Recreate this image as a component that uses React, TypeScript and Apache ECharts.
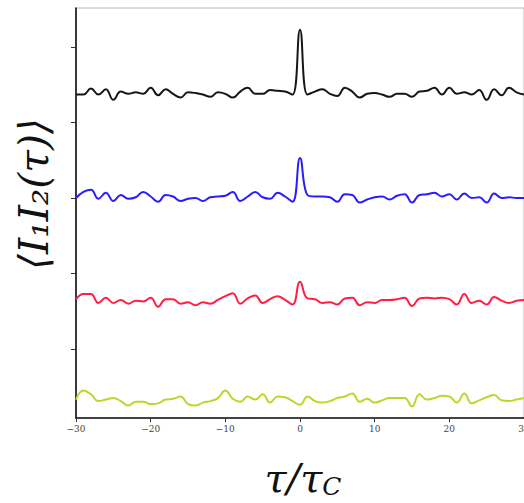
import React, { useEffect, useRef } from "react";
import * as echarts from "echarts";

// Delay axis samples, tau / tau_C
const tau: number[] = Array.from({ length: 61 }, (_, i) => i - 30);

// Vertical offsets of the stacked correlation traces
const offsets = { black: 4.37, blue: 3.0, red: 1.66, yellow: 0.33 };

// Fluctuation of each trace around its offset, one value per delay step
const blackTrace = [
  0, 0, 0.08, 0.0, 0.07, -0.07, 0.04, 0.01, 0.03, 0.01,
  0.09, -0.01, 0.07, 0.01, -0.04, 0.03, 0.02, 0, -0.03, 0.03,
  0.01, -0.04, 0.04, 0.09, 0.01, 0.01, 0.06, 0.05, 0.04, 0,
  0.86,
  0, 0.04, 0.07, 0.01, -0.02, 0.09, 0.04, -0.04, 0.01, 0.02,
  0, -0.03, 0.01, 0.01, -0.03, 0.04, 0.05, 0.09, 0, 0.09,
  0.01, 0.03, 0, 0.06, -0.07, 0.07, -0.01, 0.09, 0.03, 0,
];
const blueTrace = [
  0, 0.08, 0.11, -0.01, 0.07, -0.04, 0.04, -0.01, 0.01, 0.08,
  0.02, -0.05, 0.04, 0.02, -0.04, -0.01, 0, -0.04, 0.01, 0.02,
  0.03, 0.08, -0.04, 0.02, 0.08, 0.01, -0.01, 0.07, 0.02, -0.05,
  0.53,
  0.04, 0.02, 0.02, 0.01, -0.05, 0.05, 0.04, -0.06, -0.02, 0.01,
  0.02, -0.02, 0.03, 0.05, -0.06, 0.04, 0.05, 0.07, 0.02, 0.05,
  -0.02, 0.06, 0, 0.01, -0.06, 0.06, 0, 0.01, 0, 0,
];
const redTrace = [
  0, 0.07, 0.07, -0.05, 0.02, -0.05, -0.01, -0.06, -0.02, -0.03,
  0.02, -0.1, 0, 0, -0.06, -0.04, -0.08, -0.04, -0.06, -0.01,
  0.04, 0.08, -0.06, 0.01, 0.05, -0.05, 0.0, 0.04, -0.01, -0.07,
  0.23,
  0.01, 0, -0.05, -0.04, -0.07, 0.01, 0.02, -0.08, -0.04, -0.05,
  -0.01, -0.01, 0, 0.02, -0.09, 0.01, 0.02, 0.01, 0.02, 0,
  -0.07, 0.07, -0.05, -0.02, -0.07, 0.03, -0.02, -0.05, -0.02, -0.01,
];
const yellowTrace = [
  0, 0.12, 0.07, -0.02, 0, 0.02, -0.02, -0.08, -0.03, -0.03,
  -0.06, -0.05, 0, 0.01, 0.04, -0.06, -0.08, -0.04, -0.02, 0.02,
  0.12, 0.01, -0.03, 0.04, 0.0, 0.07, -0.04, 0.04, 0.03, -0.02,
  -0.07,
  0.04, -0.02, -0.04, -0.02, 0.02, 0.04, 0.08, -0.03, 0.01, -0.04,
  -0.01, 0.02, 0.02, 0.02, -0.09, 0.07, 0, 0.02, 0.05, 0.04,
  -0.04, 0.08, -0.05, -0.01, 0.03, 0.06, -0.01, -0.02, 0, 0.02,
];

const xTicks = [-30, -20, -10, 0, 10, 20, 30];
const yTicks = [1, 2, 3, 4, 5];

const traces = [
  { name: "black", values: blackTrace, offset: offsets.black, color: "#161616" },
  { name: "blue", values: blueTrace, offset: offsets.blue, color: "#2a1cff" },
  { name: "red", values: redTrace, offset: offsets.red, color: "#ff1e44" },
  { name: "yellow", values: yellowTrace, offset: offsets.yellow, color: "#bdd62c" },
];

export default function App() {
  const ref = useRef<HTMLDivElement>(null);

  useEffect(() => {
    if (!ref.current) return;
    const chart = echarts.init(ref.current, null, { renderer: "svg" });

    chart.setOption({
      animation: false,
      backgroundColor: "#ffffff",
      grid: {
        left: 76,
        top: 8,
        right: 0,
        bottom: 85,
        outerBoundsMode: "none",
        containLabel: false,
        show: true,
        borderColor: "#b8b8b8",
        borderWidth: 1,
        backgroundColor: "transparent",
      },
      xAxis: {
        type: "value",
        min: -30,
        max: 30,
        interval: 10,
        splitLine: { show: false },
        axisLine: { show: true, onZero: false, lineStyle: { color: "#111", width: 1.6 } },
        axisTick: {
          show: true,
          inside: false,
          length: 4,
          customValues: xTicks,
          lineStyle: { color: "#333", width: 1 },
        },
        axisLabel: {
          customValues: xTicks,
          fontFamily: "DejaVu Serif",
          fontSize: 9,
          color: "#444",
          margin: 6,
          formatter: (v: number) => String(v).replace("-", "\u2212"),
        },
      },
      yAxis: {
        type: "value",
        min: 0.086,
        max: 5.517,
        splitLine: { show: false },
        axisLine: { show: true, onZero: false, lineStyle: { color: "#111", width: 1.6 } },
        axisTick: {
          show: true,
          length: 5,
          customValues: yTicks,
          lineStyle: { color: "#333", width: 1 },
        },
        axisLabel: { show: false },
      },
      series: traces.map((t) => ({
        name: t.name,
        type: "line",
        data: tau.map((x, i) => [x, t.offset + t.values[i]]),
        showSymbol: false,
        smooth: 0.45,
        lineStyle: { color: t.color, width: 2 },
      })),
      graphic: [
        {
          type: "text",
          x: 34,
          y: 194,
          rotation: Math.PI / 2,
          style: {
            text: "\u27e8I\u2081I\u2082(\u03c4)\u27e9",
            fontFamily: "DejaVu Serif",
            fontStyle: "italic",
            fontSize: 41,
            fill: "#111",
            align: "center",
            verticalAlign: "middle",
          },
        },
        {
          type: "text",
          x: 303,
          y: 478,
          style: {
            text: "{m|\u03c4/\u03c4}{s|C}",
            align: "center",
            verticalAlign: "middle",
            rich: {
              m: {
                fontFamily: "DejaVu Serif",
                fontStyle: "italic",
                fontSize: 40,
                fill: "#111",
                lineHeight: 42,
              },
              s: {
                fontFamily: "DejaVu Serif",
                fontStyle: "italic",
                fontSize: 25,
                fill: "#111",
                lineHeight: 42,
                verticalAlign: "bottom",
                padding: [10, 0, 0, 0],
              },
            },
          },
        },
      ],
    });

    return () => chart.dispose();
  }, []);

  return (
    <div
      ref={ref}
      style={{ position: "absolute", left: 0, top: 0, width: 524, height: 503 }}
    />
  );
}
